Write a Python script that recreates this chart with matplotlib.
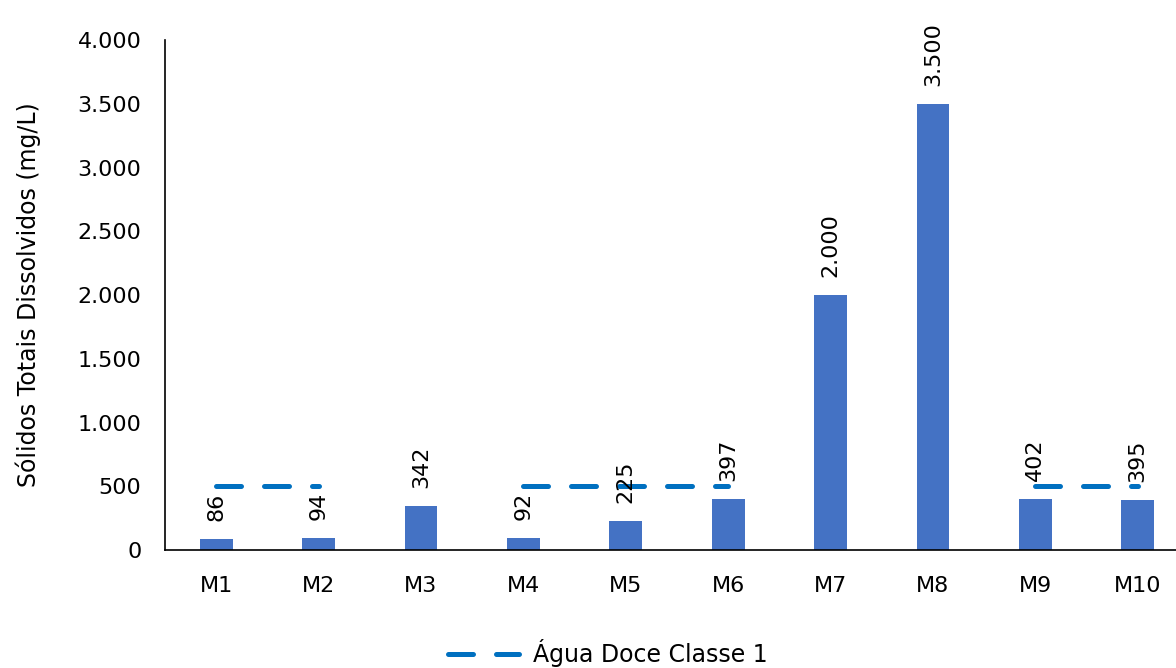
import numpy as np
import matplotlib.pyplot as plt
from matplotlib.ticker import FuncFormatter

# dados
amostras = ["M1", "M2", "M3", "M4", "M5", "M6", "M7", "M8", "M9", "M10"]
std_mg_l = [86, 94, 342, 92, 225, 397, 2000, 3500, 402, 395]
limite_classe1 = [500, 500, np.nan, 500, 500, 500, np.nan, np.nan, 500, 500]

plt.rcParams["font.family"] = ["DejaVu Sans"]
FS = 16


def milhar(v, pos=None):
    return f"{int(v):,}".replace(",", ".")


fig = plt.figure(figsize=(11.76, 6.68), dpi=100)
ax = fig.add_axes([0.1403, 0.1766, 0.8707, 0.7635])

x = np.arange(len(amostras))
ax.bar(x, std_mg_l, width=0.32, color="#4472C4", zorder=2)
ax.plot(x, limite_classe1, color="#0070C0", lw=3.6, dashes=(5.0, 4.6),
        dash_capstyle="round", label="Água Doce Classe 1", zorder=3)

for xi, v in zip(x, std_mg_l):
    ax.annotate(milhar(v), (xi, v), xytext=(0, 13), textcoords="offset points",
                rotation=90, ha="center", va="bottom", fontsize=FS, zorder=4)

ax.set_xlim(-0.5, 9.5)
ax.set_ylim(0, 4000)
ax.set_yticks(np.arange(0, 4001, 500))
ax.yaxis.set_major_formatter(FuncFormatter(milhar))
ax.set_xticks(x)
ax.set_xticklabels(amostras)
ax.tick_params(axis="both", length=0, labelsize=FS)
ax.tick_params(axis="x", pad=19)
ax.tick_params(axis="y", pad=17)
ax.set_ylabel("Sólidos Totais Dissolvidos (mg/L)", fontsize=FS + 1, labelpad=26)

for s in ("top", "right"):
    ax.spines[s].set_visible(False)
for s in ("left", "bottom"):
    ax.spines[s].set_color("black")
    ax.spines[s].set_linewidth(1.2)

fig.legend(loc="center", bbox_to_anchor=(0.517, 0.022), frameon=False,
           fontsize=FS + 1, handlelength=3.0, handletextpad=0.6)

fig.savefig("out.png", dpi=100, facecolor="white")
